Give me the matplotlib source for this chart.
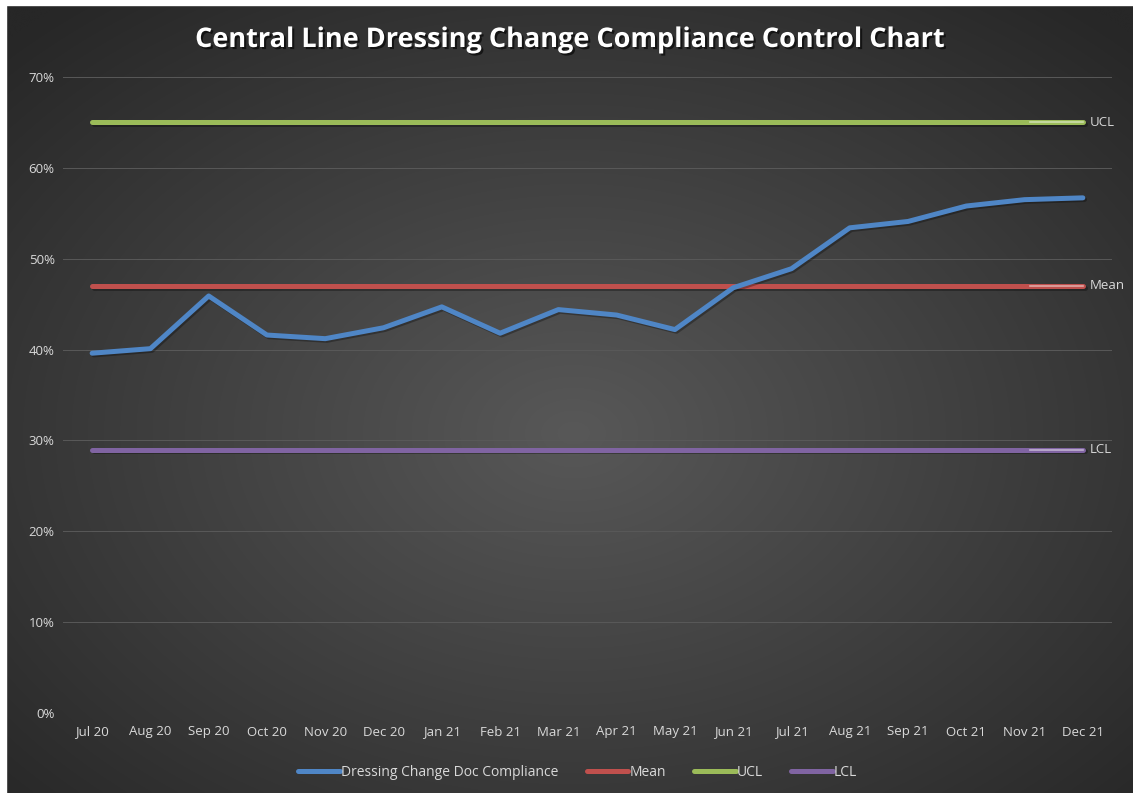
import numpy as np
import matplotlib
matplotlib.use("Agg")
import matplotlib.pyplot as plt
import matplotlib.patheffects as pe
from matplotlib.patches import Rectangle

# chart data
months = ["Jul 20", "Aug 20", "Sep 20", "Oct 20", "Nov 20", "Dec 20",
          "Jan 21", "Feb 21", "Mar 21", "Apr 21", "May 21", "Jun 21",
          "Jul 21", "Aug 21", "Sep 21", "Oct 21", "Nov 21", "Dec 21"]
compliance = [0.396, 0.401, 0.459, 0.416, 0.412, 0.424,
              0.447, 0.418, 0.444, 0.438, 0.422, 0.468,
              0.489, 0.534, 0.541, 0.558, 0.565, 0.567]
mean_val = 0.47
ucl_val = 0.65
lcl_val = 0.29
y_ticks = [0, 0.1, 0.2, 0.3, 0.4, 0.5, 0.6, 0.7]
y_tick_labels = ["0%", "10%", "20%", "30%", "40%", "50%", "60%", "70%"]

blue = "#4f86c6"
red = "#c0504d"
green = "#9bbb59"
purple = "#8064a2"
txt_col = "#d9d9d9"
font = "Open Sans"

fig = plt.figure(figsize=(11.33, 7.93), dpi=100)
fig.patch.set_facecolor("#272727")

# radial gradient background (dark grey, lighter in the middle)
bg = fig.add_axes([0, 0, 1, 1])
yy, xx = np.mgrid[0:400, 0:560]
cx, cy = 283, 218
d = np.sqrt(((xx - cx) / 560) ** 2 + ((yy - cy) / 400) ** 2) / 0.7
d = np.clip(d, 0, 1)
c0 = np.array([0x58, 0x58, 0x58]) / 255
c1 = np.array([0x27, 0x27, 0x27]) / 255
img = c0[None, None, :] * (1 - d[..., None]) + c1[None, None, :] * d[..., None]
bg.imshow(img, aspect="auto", interpolation="bicubic")
bg.axis("off")

# thin white margin on top and left like the screenshot
fig.patches.append(Rectangle((0, 0), 6/1133, 1, transform=fig.transFigure, color="white", zorder=10))
fig.patches.append(Rectangle((0, 1 - 5/793), 1, 5/793, transform=fig.transFigure, color="white", zorder=10))

ax = fig.add_axes([63/1133, 1 - 713/793, (1112 - 63)/1133, (713 - 77)/793])
ax.patch.set_alpha(0)
x = np.arange(len(months))

shadow = [pe.SimpleLineShadow(offset=(1.2, -1.2), shadow_color="black", alpha=0.3), pe.Normal()]

ax.plot(x, compliance, color=blue, lw=3.6, solid_capstyle="round", solid_joinstyle="round",
        label="Dressing Change Doc Compliance", path_effects=shadow, zorder=5)
ax.plot(x, [mean_val] * len(x), color=red, lw=3.6, solid_capstyle="round",
        label="Mean", path_effects=shadow, zorder=4)
ax.plot(x, [ucl_val] * len(x), color=green, lw=3.6, solid_capstyle="round",
        label="UCL", path_effects=shadow, zorder=4)
ax.plot(x, [lcl_val] * len(x), color=purple, lw=3.6, solid_capstyle="round",
        label="LCL", path_effects=shadow, zorder=4)

# data labels with short leader lines at the right end
for val, name in [(ucl_val, "UCL"), (mean_val, "Mean"), (lcl_val, "LCL")]:
    ax.plot([x[-1] - 0.9, x[-1]], [val, val], color="white", lw=1.2, alpha=0.5, zorder=6)
    ax.text(x[-1] + 0.12, val, name, color=txt_col, fontsize=9.5, family=font,
            va="center", ha="left", zorder=7)

ax.set_xlim(-0.5, len(months) - 0.5)
ax.set_ylim(0, 0.7)
ax.set_yticks(y_ticks)
ax.set_yticklabels(y_tick_labels)
ax.set_xticks(x)
ax.set_xticklabels(months)
ax.grid(axis="y", color="#595959", lw=0.7)
ax.set_axisbelow(True)
for s in ax.spines.values():
    s.set_visible(False)
ax.tick_params(length=0, colors=txt_col, labelsize=9.5)
ax.tick_params(axis="y", pad=6)
ax.tick_params(axis="x", pad=9)
for lab in ax.get_xticklabels() + ax.get_yticklabels():
    lab.set_family(font)

fig.text(0.503, 1 - 40/793, "Central Line Dressing Change Compliance Control Chart",
         ha="center", va="center", color="white", fontsize=19.5, fontweight="bold", family=font,
         path_effects=[pe.withSimplePatchShadow(offset=(1.5, -1.5), shadow_rgbFace="black", alpha=0.6)])

leg = fig.legend(loc="center", bbox_to_anchor=(0.51, 1 - 772/793), ncol=4, frameon=False,
                 handlelength=3.0, handletextpad=0.1, columnspacing=2.0,
                 prop={"family": font, "size": 10})
for t in leg.get_texts():
    t.set_color(txt_col)
for h in leg.legend_handles:
    h.set_path_effects([])

fig.savefig("out.png", dpi=100, facecolor=fig.get_facecolor())
